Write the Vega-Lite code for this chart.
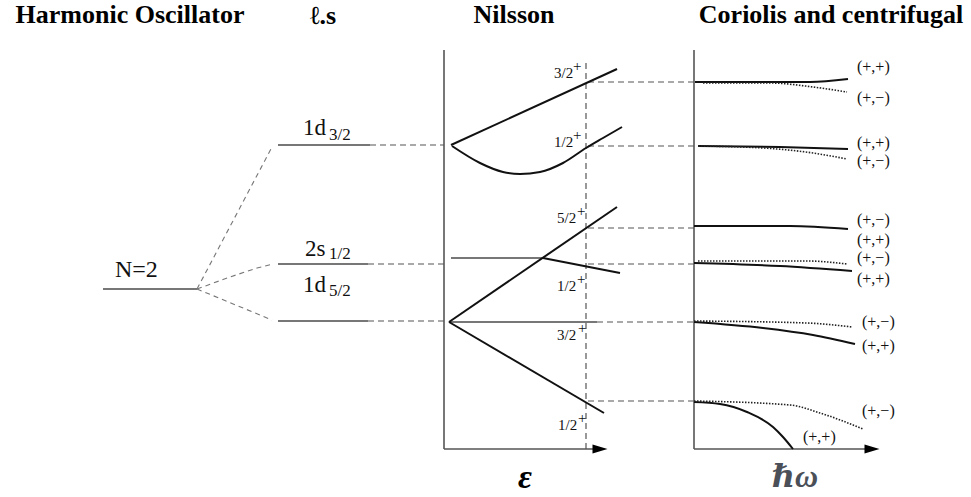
{
  "$schema": "https://vega.github.io/schema/vega-lite/v6.json",
  "width": 971,
  "height": 497,
  "padding": 0,
  "autosize": {"type": "fit", "contains": "padding"},
  "background": "white",
  "config": {"view": {"stroke": null}},
  "datasets": {
    "segs": [
      {"kind": "level", "x": 103, "y": 289, "x2": 197, "y2": 289},
      {"kind": "level", "x": 278, "y": 145, "x2": 370, "y2": 145},
      {"kind": "level", "x": 278, "y": 264, "x2": 368, "y2": 264},
      {"kind": "level", "x": 278, "y": 321, "x2": 368, "y2": 321},
      {"kind": "level", "x": 451, "y": 258, "x2": 543, "y2": 258},
      {"kind": "level", "x": 449, "y": 322, "x2": 597, "y2": 322},
      {"kind": "link", "x": 370, "y": 145, "x2": 444, "y2": 145},
      {"kind": "link", "x": 368, "y": 264, "x2": 444, "y2": 264},
      {"kind": "link", "x": 368, "y": 321, "x2": 444, "y2": 321},
      {"kind": "link", "x": 586, "y": 63, "x2": 586, "y2": 449},
      {"kind": "link", "x": 588, "y": 82, "x2": 694, "y2": 82},
      {"kind": "link", "x": 588, "y": 146, "x2": 694, "y2": 146},
      {"kind": "link", "x": 588, "y": 228, "x2": 694, "y2": 228},
      {"kind": "link", "x": 588, "y": 264, "x2": 694, "y2": 264},
      {"kind": "link", "x": 597, "y": 322, "x2": 694, "y2": 322},
      {"kind": "link", "x": 588, "y": 401, "x2": 694, "y2": 401},
      {"kind": "axis", "x": 444, "y": 50, "x2": 444, "y2": 449},
      {"kind": "axis", "x": 444, "y": 449, "x2": 596, "y2": 449},
      {"kind": "axis", "x": 694, "y": 50, "x2": 694, "y2": 449},
      {"kind": "axis", "x": 694, "y": 449, "x2": 868, "y2": 449}
    ],
    "arrows": [
      {"x": 600, "y": 449},
      {"x": 872, "y": 449}
    ],
    "curves": [
      {"id": "s1", "kind": "split", "i": 0, "x": 197, "y": 289},
      {"id": "s1", "kind": "split", "i": 1, "x": 272, "y": 147},
      {"id": "s2", "kind": "split", "i": 0, "x": 197, "y": 289},
      {"id": "s2", "kind": "split", "i": 1, "x": 230, "y": 277},
      {"id": "s2", "kind": "split", "i": 2, "x": 257, "y": 268},
      {"id": "s2", "kind": "split", "i": 3, "x": 273, "y": 264},
      {"id": "s3", "kind": "split", "i": 0, "x": 197, "y": 289},
      {"id": "s3", "kind": "split", "i": 1, "x": 272, "y": 320},

      {"id": "n1", "kind": "nilsson", "i": 0, "x": 451, "y": 145},
      {"id": "n1", "kind": "nilsson", "i": 1, "x": 617, "y": 69},
      {"id": "n2", "kind": "nilsson", "i": 0, "x": 452, "y": 146},
      {"id": "n2", "kind": "nilsson", "i": 1, "x": 480, "y": 163},
      {"id": "n2", "kind": "nilsson", "i": 2, "x": 503, "y": 172},
      {"id": "n2", "kind": "nilsson", "i": 3, "x": 520, "y": 174},
      {"id": "n2", "kind": "nilsson", "i": 4, "x": 540, "y": 172},
      {"id": "n2", "kind": "nilsson", "i": 5, "x": 563, "y": 163},
      {"id": "n2", "kind": "nilsson", "i": 6, "x": 586, "y": 148},
      {"id": "n2", "kind": "nilsson", "i": 7, "x": 603, "y": 138},
      {"id": "n2", "kind": "nilsson", "i": 8, "x": 622, "y": 127},
      {"id": "n3", "kind": "nilsson", "i": 0, "x": 449, "y": 322},
      {"id": "n3", "kind": "nilsson", "i": 1, "x": 617, "y": 207},
      {"id": "n4", "kind": "nilsson", "i": 0, "x": 543, "y": 258},
      {"id": "n4", "kind": "nilsson", "i": 1, "x": 620, "y": 273},
      {"id": "n5", "kind": "nilsson", "i": 0, "x": 449, "y": 322},
      {"id": "n5", "kind": "nilsson", "i": 1, "x": 604, "y": 413},

      {"id": "c1", "kind": "coriolis", "i": 0, "x": 695, "y": 82},
      {"id": "c1", "kind": "coriolis", "i": 1, "x": 760, "y": 82},
      {"id": "c1", "kind": "coriolis", "i": 2, "x": 810, "y": 82},
      {"id": "c1", "kind": "coriolis", "i": 3, "x": 848, "y": 79},
      {"id": "c3", "kind": "coriolis", "i": 0, "x": 698, "y": 146},
      {"id": "c3", "kind": "coriolis", "i": 1, "x": 780, "y": 147},
      {"id": "c3", "kind": "coriolis", "i": 2, "x": 848, "y": 149},
      {"id": "c5", "kind": "coriolis", "i": 0, "x": 694, "y": 226},
      {"id": "c5", "kind": "coriolis", "i": 1, "x": 790, "y": 226},
      {"id": "c5", "kind": "coriolis", "i": 2, "x": 848, "y": 229},
      {"id": "c7", "kind": "coriolis", "i": 0, "x": 694, "y": 263},
      {"id": "c7", "kind": "coriolis", "i": 1, "x": 780, "y": 266},
      {"id": "c7", "kind": "coriolis", "i": 2, "x": 852, "y": 271},
      {"id": "c9", "kind": "coriolis", "i": 0, "x": 694, "y": 322},
      {"id": "c9", "kind": "coriolis", "i": 1, "x": 763, "y": 328},
      {"id": "c9", "kind": "coriolis", "i": 2, "x": 813, "y": 335},
      {"id": "c9", "kind": "coriolis", "i": 3, "x": 855, "y": 344},
      {"id": "c11", "kind": "coriolis", "i": 0, "x": 694, "y": 402},
      {"id": "c11", "kind": "coriolis", "i": 1, "x": 720, "y": 404},
      {"id": "c11", "kind": "coriolis", "i": 2, "x": 747, "y": 412},
      {"id": "c11", "kind": "coriolis", "i": 3, "x": 773, "y": 427},
      {"id": "c11", "kind": "coriolis", "i": 4, "x": 783, "y": 437},
      {"id": "c11", "kind": "coriolis", "i": 5, "x": 793, "y": 449},

      {"id": "c2", "kind": "partner", "i": 0, "x": 703, "y": 83},
      {"id": "c2", "kind": "partner", "i": 1, "x": 770, "y": 83},
      {"id": "c2", "kind": "partner", "i": 2, "x": 813, "y": 87},
      {"id": "c2", "kind": "partner", "i": 3, "x": 847, "y": 92},
      {"id": "c4", "kind": "partner", "i": 0, "x": 698, "y": 146},
      {"id": "c4", "kind": "partner", "i": 1, "x": 763, "y": 148},
      {"id": "c4", "kind": "partner", "i": 2, "x": 813, "y": 153},
      {"id": "c4", "kind": "partner", "i": 3, "x": 847, "y": 159},
      {"id": "c8", "kind": "partner", "i": 0, "x": 698, "y": 261},
      {"id": "c8", "kind": "partner", "i": 1, "x": 807, "y": 261},
      {"id": "c8", "kind": "partner", "i": 2, "x": 847, "y": 264},
      {"id": "c10", "kind": "partner", "i": 0, "x": 694, "y": 321},
      {"id": "c10", "kind": "partner", "i": 1, "x": 807, "y": 323},
      {"id": "c10", "kind": "partner", "i": 2, "x": 852, "y": 327},
      {"id": "c12", "kind": "partner", "i": 0, "x": 694, "y": 401},
      {"id": "c12", "kind": "partner", "i": 1, "x": 790, "y": 405},
      {"id": "c12", "kind": "partner", "i": 2, "x": 820, "y": 413},
      {"id": "c12", "kind": "partner", "i": 3, "x": 863, "y": 429}
    ],
    "labels": [
      {"role": "heading", "text": "Harmonic Oscillator", "x": 130, "y": 23},
      {"role": "heading", "text": "ℓ.s", "x": 323, "y": 24},
      {"role": "heading", "text": "Nilsson", "x": 514, "y": 23},
      {"role": "heading", "text": "Coriolis and centrifugal", "x": 831, "y": 23},
      {"role": "shell", "text": "N=2", "x": 115, "y": 277},
      {"role": "orbital", "text": "1d", "x": 303, "y": 135},
      {"role": "orbital", "text": "2s", "x": 305, "y": 256},
      {"role": "orbital", "text": "1d", "x": 303, "y": 292},
      {"role": "orbitalSub", "text": "3/2", "x": 329, "y": 140},
      {"role": "orbitalSub", "text": "1/2", "x": 329, "y": 259},
      {"role": "orbitalSub", "text": "5/2", "x": 329, "y": 296},
      {"role": "omega", "text": "3/2", "x": 554, "y": 78},
      {"role": "omega", "text": "1/2", "x": 554, "y": 147},
      {"role": "omega", "text": "5/2", "x": 557, "y": 223},
      {"role": "omega", "text": "1/2", "x": 557, "y": 291},
      {"role": "omega", "text": "3/2", "x": 557, "y": 340},
      {"role": "omega", "text": "1/2", "x": 558, "y": 430},
      {"role": "parity", "text": "+", "x": 573, "y": 71},
      {"role": "parity", "text": "+", "x": 573, "y": 140},
      {"role": "parity", "text": "+", "x": 577, "y": 216},
      {"role": "parity", "text": "+", "x": 577, "y": 284},
      {"role": "parity", "text": "+", "x": 578, "y": 333},
      {"role": "parity", "text": "+", "x": 578, "y": 423},
      {"role": "signature", "text": "(+,+)", "x": 857, "y": 72},
      {"role": "signature", "text": "(+,−)", "x": 857, "y": 103},
      {"role": "signature", "text": "(+,+)", "x": 857, "y": 148},
      {"role": "signature", "text": "(+,−)", "x": 857, "y": 166},
      {"role": "signature", "text": "(+,−)", "x": 857, "y": 225},
      {"role": "signature", "text": "(+,+)", "x": 857, "y": 245},
      {"role": "signature", "text": "(+,−)", "x": 857, "y": 263},
      {"role": "signature", "text": "(+,+)", "x": 857, "y": 284},
      {"role": "signature", "text": "(+,−)", "x": 862, "y": 327},
      {"role": "signature", "text": "(+,+)", "x": 862, "y": 351},
      {"role": "signature", "text": "(+,−)", "x": 862, "y": 416},
      {"role": "signature", "text": "(+,+)", "x": 803, "y": 442},
      {"role": "epsilon", "text": "ε", "x": 525, "y": 488},
      {"role": "rotation", "text": "ℏω", "x": 795, "y": 487}
    ]
  },
  "encoding": {
    "x": {"field": "x", "type": "quantitative", "axis": null,
          "scale": {"domain": [0, 971], "nice": false, "zero": false}},
    "y": {"field": "y", "type": "quantitative", "axis": null,
          "scale": {"domain": [0, 497], "nice": false, "zero": false, "reverse": true}}
  },
  "layer": [
    {
      "data": {"name": "segs"},
      "transform": [{"filter": "datum.kind === 'link'"}],
      "mark": {"type": "rule", "color": "#555555", "strokeWidth": 1.2, "strokeDash": [6, 4]},
      "encoding": {"x2": {"field": "x2"}, "y2": {"field": "y2"}}
    },
    {
      "data": {"name": "segs"},
      "transform": [{"filter": "datum.kind === 'level'"}],
      "mark": {"type": "rule", "color": "#4a4a4a", "strokeWidth": 1.5},
      "encoding": {"x2": {"field": "x2"}, "y2": {"field": "y2"}}
    },
    {
      "data": {"name": "segs"},
      "transform": [{"filter": "datum.kind === 'axis'"}],
      "mark": {"type": "rule", "color": "#555555", "strokeWidth": 1.6},
      "encoding": {"x2": {"field": "x2"}, "y2": {"field": "y2"}}
    },
    {
      "data": {"name": "arrows"},
      "mark": {"type": "point", "shape": "M-1,-0.6L1,0L-1,0.6Z", "size": 225,
               "filled": true, "color": "#000000", "opacity": 1},
      "encoding": {}
    },
    {
      "data": {"name": "curves"},
      "transform": [{"filter": "datum.kind === 'split'"}],
      "mark": {"type": "line", "color": "#777777", "strokeWidth": 1.1, "strokeDash": [5, 4]},
      "encoding": {"detail": {"field": "id"}, "order": {"field": "i"}}
    },
    {
      "data": {"name": "curves"},
      "transform": [{"filter": "datum.kind === 'nilsson'"}],
      "mark": {"type": "line", "color": "#111111", "strokeWidth": 2, "interpolate": "monotone"},
      "encoding": {"detail": {"field": "id"}, "order": {"field": "i"}}
    },
    {
      "data": {"name": "curves"},
      "transform": [{"filter": "datum.kind === 'coriolis'"}],
      "mark": {"type": "line", "color": "#111111", "strokeWidth": 2, "interpolate": "monotone"},
      "encoding": {"detail": {"field": "id"}, "order": {"field": "i"}}
    },
    {
      "data": {"name": "curves"},
      "transform": [{"filter": "datum.kind === 'partner'"}],
      "mark": {"type": "line", "color": "#222222", "strokeWidth": 1.6, "strokeDash": [1.5, 1.5], "interpolate": "monotone"},
      "encoding": {"detail": {"field": "id"}, "order": {"field": "i"}}
    },
    {
      "data": {"name": "labels"},
      "transform": [{"filter": "datum.role === 'heading'"}],
      "mark": {"type": "text", "font": "'Liberation Serif', 'Times New Roman', Times, serif", "fontWeight": "bold", "fontSize": 26,
               "align": "center", "baseline": "alphabetic", "color": "#000000"},
      "encoding": {"text": {"field": "text"}}
    },
    {
      "data": {"name": "labels"},
      "transform": [{"filter": "datum.role === 'shell'"}],
      "mark": {"type": "text", "font": "'Liberation Serif', 'Times New Roman', Times, serif", "fontSize": 24,
               "align": "left", "baseline": "alphabetic", "color": "#111111"},
      "encoding": {"text": {"field": "text"}}
    },
    {
      "data": {"name": "labels"},
      "transform": [{"filter": "datum.role === 'orbital'"}],
      "mark": {"type": "text", "font": "'Liberation Serif', 'Times New Roman', Times, serif", "fontSize": 23,
               "align": "left", "baseline": "alphabetic", "color": "#111111"},
      "encoding": {"text": {"field": "text"}}
    },
    {
      "data": {"name": "labels"},
      "transform": [{"filter": "datum.role === 'orbitalSub'"}],
      "mark": {"type": "text", "font": "'Liberation Serif', 'Times New Roman', Times, serif", "fontSize": 17,
               "align": "left", "baseline": "alphabetic", "color": "#111111"},
      "encoding": {"text": {"field": "text"}}
    },
    {
      "data": {"name": "labels"},
      "transform": [{"filter": "datum.role === 'omega'"}],
      "mark": {"type": "text", "font": "'Liberation Serif', 'Times New Roman', Times, serif", "fontSize": 15,
               "align": "left", "baseline": "alphabetic", "color": "#111111"},
      "encoding": {"text": {"field": "text"}}
    },
    {
      "data": {"name": "labels"},
      "transform": [{"filter": "datum.role === 'parity'"}],
      "mark": {"type": "text", "font": "'Liberation Serif', 'Times New Roman', Times, serif", "fontSize": 15,
               "align": "left", "baseline": "alphabetic", "color": "#111111"},
      "encoding": {"text": {"field": "text"}}
    },
    {
      "data": {"name": "labels"},
      "transform": [{"filter": "datum.role === 'signature'"}],
      "mark": {"type": "text", "font": "'Liberation Serif', 'Times New Roman', Times, serif", "fontSize": 16,
               "align": "left", "baseline": "alphabetic", "color": "#111111"},
      "encoding": {"text": {"field": "text"}}
    },
    {
      "data": {"name": "labels"},
      "transform": [{"filter": "datum.role === 'epsilon'"}],
      "mark": {"type": "text", "font": "'Liberation Serif', 'Times New Roman', Times, serif", "fontWeight": "bold", "fontStyle": "italic", "fontSize": 34,
               "align": "center", "baseline": "alphabetic", "color": "#000000"},
      "encoding": {"text": {"field": "text"}}
    },
    {
      "data": {"name": "labels"},
      "transform": [{"filter": "datum.role === 'rotation'"}],
      "mark": {"type": "text", "font": "'Liberation Serif', 'DejaVu Serif', serif", "fontWeight": "bold", "fontStyle": "italic", "fontSize": 32,
               "align": "center", "baseline": "alphabetic", "color": "#4b5058"},
      "encoding": {"text": {"field": "text"}}
    }
  ]
}
